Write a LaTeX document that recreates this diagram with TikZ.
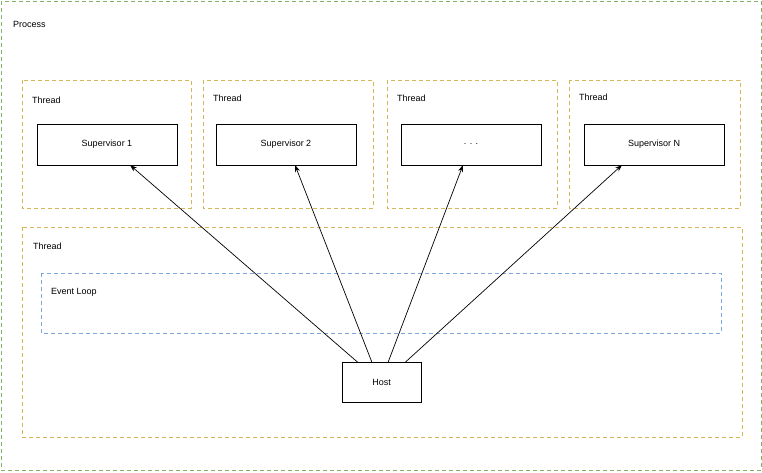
\documentclass[tikz,border=0pt]{standalone}
\usepackage{fontspec}
\setmainfont{Liberation Sans}
\usetikzlibrary{arrows.meta}
\definecolor{pgreen}{HTML}{82B366}
\definecolor{porange}{HTML}{D6B656}
\definecolor{pblue}{HTML}{7EA6E0}
\begin{document}
\begin{tikzpicture}[x=1pt,y=-1pt,font=\fontsize{9}{11}\selectfont,
  grp/.style={draw=porange,dashed,line width=1pt,dash pattern=on 4pt off 3pt},
  box/.style={draw=black,fill=white,line width=0.8pt},
  lbl/.style={anchor=west,inner sep=0pt},
  arr/.style={-{Stealth[length=7pt,width=5pt]},line width=0.7pt}]
\useasboundingbox (0,0) rectangle (762,472);
\draw[draw=pgreen,line width=1pt,dash pattern=on 4pt off 3pt] (1,1) rectangle (761,470);
\node[lbl] (proc) at (13,24) {Process};
\foreach \a/\b/\ly [count=\i] in {22/191/100,203/373/98,387/557/98,569/740/97}{
  \draw[grp] (\a,80) rectangle (\b,208);
  \node[lbl] (t\i) at (\a+10,\ly) {Thread};
}
\draw[grp] (22,227) rectangle (742,437);
\node[lbl] (tb) at (33,246) {Thread};
\draw[draw=pblue,line width=1pt,dash pattern=on 4pt off 3pt] (41,273) rectangle (721,333);
\node[lbl] (ev) at (51,292) {Event Loop};
\node[box,minimum width=140pt,minimum height=41pt] (s1) at (107,144.5) {Supervisor 1};
\node[box,minimum width=140pt,minimum height=41pt] (s2) at (286,144.5) {Supervisor 2};
\node[box,minimum width=140pt,minimum height=41pt] (s3) at (471,144.5) {. . .};
\node[box,minimum width=140pt,minimum height=41pt] (s4) at (654,144.5) {Supervisor N};
\node[box,minimum width=79pt,minimum height=40pt] (h) at (381.5,382) {Host};
\coordinate (h1) at (358,362.5);
\coordinate (h2) at (372,362.5);
\coordinate (h3) at (388,362.5);
\coordinate (h4) at (405,362.5);
\draw[arr] (h1) -- (130,165);
\draw[arr] (h2) -- (295,165);
\draw[arr] (h3) -- (463,165);
\draw[arr] (h4) -- (622,165);
\end{tikzpicture}
\end{document}
